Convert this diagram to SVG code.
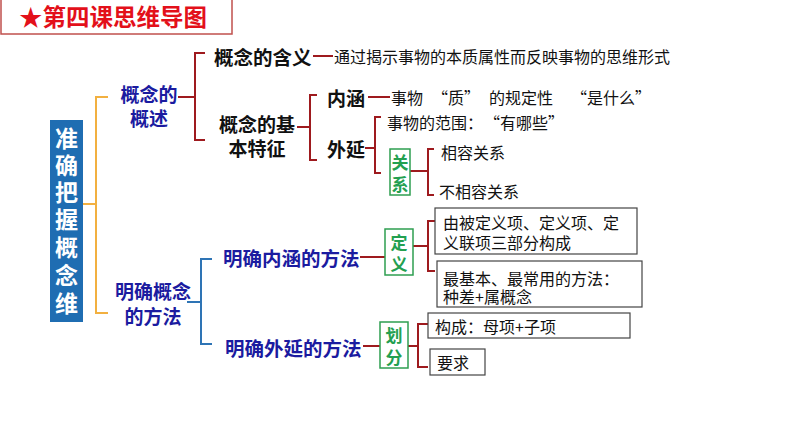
<svg xmlns="http://www.w3.org/2000/svg" width="794" height="447" viewBox="0 0 794 447">
<style>
.h{font-family:"Noto Sans CJK SC","Noto Sans",sans-serif;font-weight:bold;dominant-baseline:central}
.b{font-family:"Noto Sans CJK SC","Noto Sans",sans-serif;font-size:16px;fill:#111;dominant-baseline:central}
.blue{fill:#1b1ba0;font-size:19px}
.blk{fill:#111;font-size:19px}
.grn{fill:#23a050;font-size:17px;text-anchor:middle}
.red{stroke:#9e1a1e;stroke-width:2;fill:none}
.org{stroke:#f2b040;stroke-width:2;fill:none}
.bl{stroke:#2e74b5;stroke-width:2;fill:none}
.gbox{fill:#fff;stroke:#2e9e50;stroke-width:1.5}
.box{fill:#fff;stroke:#444;stroke-width:1.2}
</style>
<rect width="794" height="447" fill="#fff"/>
<g id="title">
<rect x="1" y="-1" width="231" height="35" fill="#fff" stroke="#c0504d" stroke-width="1.5"/>
<text x="19" y="16" class="h" style="font-size:23.5px;fill:#e3101a">★第四课思维导图</text>
</g>
<g id="connectors">
<path class="org" d="M83 204H96M108 97H96V313H108"/>
<path class="red" d="M178 97H195M205 53H195V140H205"/>
<path class="red" d="M313 56H333"/>
<path class="red" d="M297 127H310M317 95H310V160H317"/>
<path class="red" d="M368 97H390"/>
<path class="red" d="M365 148H375M381 117H375V173H381"/>
<path class="red" d="M410 171H428M434 149H428V195H434"/>
<path class="bl" d="M187 302H201M212 259H201V344H212"/>
<path class="red" d="M360 257H385"/>
<path class="red" d="M413 246H428M435 221H428V271H435"/>
<path class="red" d="M363 346H380"/>
<path class="red" d="M408 346H418M428 324H418V367H428"/>
</g>
<g id="root">
<rect x="50" y="120" width="33" height="202" fill="#1f6db2"/>
<g class="h" style="font-size:23px;fill:#fff" text-anchor="middle">
<text x="66.5" y="137">准</text><text x="66.5" y="164">确</text><text x="66.5" y="191">把</text><text x="66.5" y="218">握</text><text x="66.5" y="246">概</text><text x="66.5" y="274">念</text><text x="66.5" y="302">维</text>
</g>
</g>
<g id="n-gaishu"><text class="h blue" x="149" y="93" text-anchor="middle">概念的</text><text class="h blue" x="149" y="117" text-anchor="middle">概述</text></g>
<g id="n-hanyi"><text class="h blk" x="214" y="56" style="font-size:19.5px">概念的含义</text><text class="b" x="334" y="56">通过揭示事物的本质属性而反映事物的思维形式</text></g>
<g id="n-tezheng"><text class="h blk" x="257" y="123" text-anchor="middle">概念的基</text><text class="h blk" x="257" y="147" text-anchor="middle">本特征</text></g>
<g id="n-neihan"><text class="h blk" x="327" y="97">内涵</text><text class="b" x="391" y="97">事物<tspan dx="9">“</tspan>质”<tspan dx="9">的规定性</tspan><tspan dx="18">“</tspan>是什么”</text></g>
<g id="n-waiyan"><text class="h blk" x="327" y="148">外延</text><text class="b" x="387" y="122">事物的范围：<tspan dx="9">“</tspan>有哪些”</text></g>
<g id="n-guanxi"><rect class="gbox" x="390" y="149" width="20" height="46"/><text class="h grn" x="400" y="161">关</text><text class="h grn" x="400" y="183">系</text></g>
<g id="n-xiangrong"><text class="b" x="441" y="152">相容关系</text></g>
<g id="n-buxiangrong"><text class="b" x="439" y="191">不相容关系</text></g>
<g id="n-fangfa"><text class="h blue" x="153" y="290" text-anchor="middle">明确概念</text><text class="h blue" x="153" y="315" text-anchor="middle">的方法</text></g>
<g id="n-neihanff"><text class="h blue" x="223" y="257" style="font-size:19.5px">明确内涵的方法</text></g>
<g id="n-waiyanff"><text class="h blue" x="225" y="347" style="font-size:19.5px">明确外延的方法</text></g>
<g id="n-dingyi"><rect class="gbox" x="385" y="229" width="28" height="46"/><text class="h grn" x="399" y="241">定</text><text class="h grn" x="399" y="263">义</text></g>
<g id="n-box1"><rect class="box" x="435" y="208" width="202" height="46"/><text class="b" x="443" y="222">由被定义项、定义项、定</text><text class="b" x="443" y="242">义联项三部分构成</text></g>
<g id="n-box2"><rect class="box" x="437" y="261" width="205" height="46"/><text class="b" x="443" y="278">最基本、最常用的方法：</text><text class="b" x="443" y="296">种差+属概念</text></g>
<g id="n-huafen"><rect class="gbox" x="380" y="322" width="28" height="46"/><text class="h grn" x="394" y="334">划</text><text class="h grn" x="394" y="356">分</text></g>
<g id="n-box3"><rect class="box" x="428" y="313" width="202" height="25"/><text class="b" x="435" y="326">构成：母项+子项</text></g>
<g id="n-box4"><rect class="box" x="430" y="349" width="55" height="26"/><text class="b" x="437" y="362">要求</text></g>
</svg>
